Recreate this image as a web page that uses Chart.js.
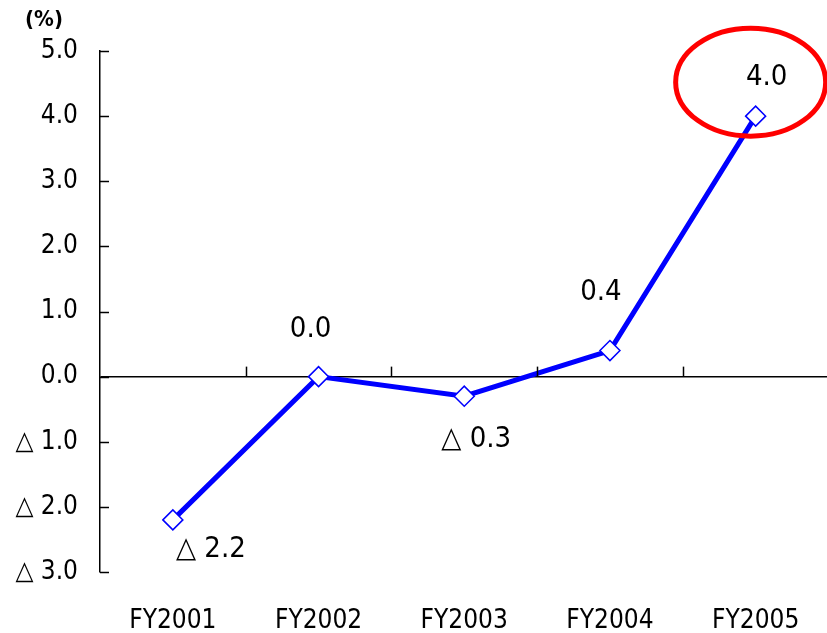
<!DOCTYPE html>
<html>
<head>
<meta charset="utf-8">
<script src="https://cdn.jsdelivr.net/npm/chart.js@4.4.0/dist/chart.umd.min.js"></script>
<style>
    html, body { margin: 0; padding: 0; background: #fff; overflow: hidden; }
    #wrap { width: 840px; height: 633px; position: relative; }
</style>
</head>
<body>
<div id="wrap"><canvas id="chart"></canvas></div>
<script>
const years = ['FY2001', 'FY2002', 'FY2003', 'FY2004', 'FY2005'];
const growth = [-2.2, 0.0, -0.3, 0.4, 4.0];
const yTicks = [-3, -2, -1, 0, 1, 2, 3, 4, 5];

const FONT = "'DejaVu Sans Condensed', 'Liberation Sans', sans-serif";

function fmt(v) {
    return v < 0 ? '△ ' + Math.abs(v).toFixed(1) : v.toFixed(1);
}

// where each value label sits relative to its point
const labelOffsets = [[38, 30], [-8, -47], [12, 43], [-9, -58], [11, -39]];

const extras = {
    id: 'extras',
    afterDatasetsDraw(chart) {
        const ctx = chart.ctx;
        const x = chart.scales.x;
        const y = chart.scales.y;
        const area = chart.chartArea;
        const zeroY = y.getPixelForValue(0);
        ctx.save();
        ctx.strokeStyle = '#000';
        ctx.lineWidth = 1.5;
        // inward ticks on the value axis
        yTicks.forEach(v => {
            const py = Math.round(y.getPixelForValue(v)) + 0.5;
            ctx.beginPath();
            ctx.moveTo(area.left, py);
            ctx.lineTo(area.left + 9, py);
            ctx.stroke();
        });
        // category boundary ticks on the zero line
        for (let i = 1; i < years.length; i++) {
            const px = Math.round((x.getPixelForValue(i - 1) + x.getPixelForValue(i)) / 2) + 0.5;
            ctx.beginPath();
            ctx.moveTo(px, zeroY);
            ctx.lineTo(px, zeroY - 10);
            ctx.stroke();
        }
        // value labels
        ctx.fillStyle = '#000';
        ctx.font = '29px ' + FONT;
        ctx.textAlign = 'center';
        ctx.textBaseline = 'middle';
        growth.forEach((v, i) => {
            const px = x.getPixelForValue(i);
            const py = y.getPixelForValue(v);
            ctx.fillText(fmt(v), px + labelOffsets[i][0], py + labelOffsets[i][1]);
        });
        // red ellipse around the last value
        const last = growth.length - 1;
        const ex = x.getPixelForValue(last) - 5;
        const ey = y.getPixelForValue(growth[last]) - 34;
        ctx.strokeStyle = '#ff0000';
        ctx.lineWidth = 5;
        ctx.beginPath();
        ctx.ellipse(ex, ey, 75, 54, 0, 0, Math.PI * 2);
        ctx.stroke();
        // unit
        ctx.font = "bold 22px 'DejaVu Sans Condensed', sans-serif";
        ctx.fillText('(%)', 44, 20);
        ctx.restore();
    }
};

new Chart(document.getElementById('chart'), {
    type: 'line',
    data: {
        labels: years,
        datasets: [{
            data: growth,
            borderColor: '#0000ff',
            borderWidth: 5,
            tension: 0,
            pointStyle: 'rectRot',
            pointRadius: 10,
            pointBackgroundColor: '#ffffff',
            pointBorderColor: '#0000ff',
            pointBorderWidth: 1.5
        }]
    },
    options: {
        responsive: true,
        maintainAspectRatio: false,
        animation: false,
        layout: { padding: { top: 51, right: 5, left: 0, bottom: 0 } },
        plugins: {
            legend: { display: false },
            tooltip: { enabled: false }
        },
        scales: {
            x: {
                offset: true,
                grid: { display: false },
                border: { display: false },
                ticks: {
                    color: '#000',
                    padding: 26,
                    font: { family: FONT, size: 26 }
                },
                afterFit(scale) { scale.height = 61; }
            },
            y: {
                min: -3,
                max: 5,
                afterBuildTicks(scale) {
                    scale.ticks = yTicks.map(v => ({ value: v }));
                },
                grid: {
                    drawTicks: false,
                    lineWidth: 1.5,
                    color: c => (c.tick && c.tick.value === 0) ? '#000' : 'rgba(0,0,0,0)'
                },
                border: { display: true, color: '#000', width: 1.5 },
                ticks: {
                    color: '#000',
                    padding: 22,
                    font: { family: FONT, size: 26 },
                    callback: v => fmt(v)
                },
                afterFit(scale) { scale.width = 100; }
            }
        }
    },
    plugins: [extras]
});
</script>
</body>
</html>
